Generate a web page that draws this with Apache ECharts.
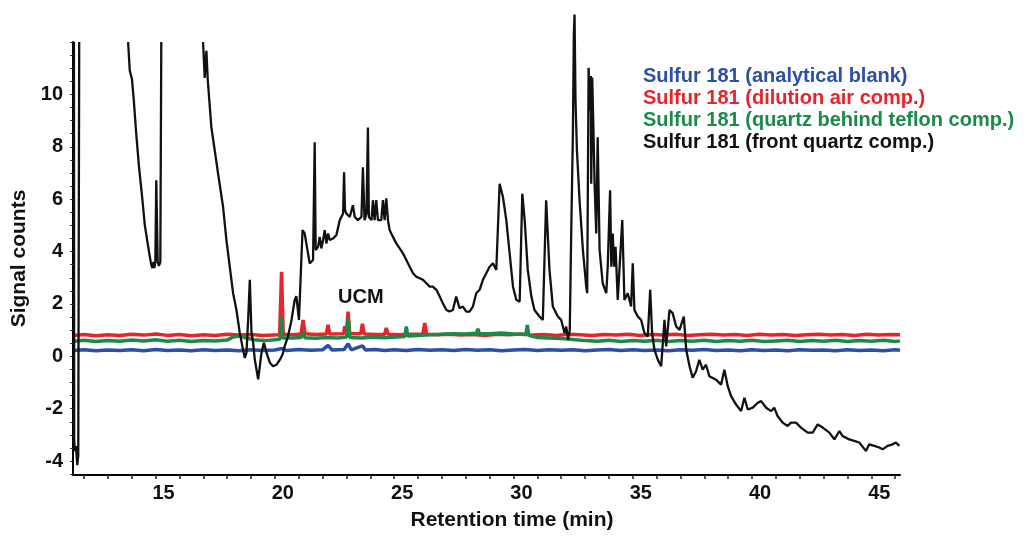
<!DOCTYPE html>
<html>
<head>
<meta charset="utf-8">
<script src="https://cdn.jsdelivr.net/npm/echarts@6/dist/echarts.min.js"></script>
<style>
html,body{margin:0;padding:0;background:#fff;}
#chart{width:1026px;height:536px;}
</style>
</head>
<body>
<div id="chart"></div>
<script>
// ---- Data (retention time in min, signal counts) ----
const seriesNames = [
  'Sulfur 181 (analytical blank)',
  'Sulfur 181 (dilution air comp.)',
  'Sulfur 181 (quartz behind teflon comp.)',
  'Sulfur 181 (front quartz comp.)'
];
const seriesColors = ['#2b50a6', '#e8232b', '#1b8a48', '#111111'];

const xLabelValues = [15, 20, 25, 30, 35, 40, 45];
const xTickValues = [12,13,14,15,16,17,18,19,20,21,22,23,24,25,26,27,28,29,30,31,32,33,34,35,36,37,38,39,40,41,42,43,44,45,46];
const yLabelValues = [-4, -2, 0, 2, 4, 6, 8, 10];
const yTickValues = [-4.5,-4,-3.5,-3,-2.5,-2,-1.5,-1,-0.5,0,0.5,1,1.5,2,2.5,3,3.5,4,4.5,5,5.5,6,6.5,7,7.5,8,8.5,9,9.5,10,10.5,11,11.5,12];

// analytical blank (blue)
const blankTime = [11.55,12,12.5,13,13.5,14,14.5,15,15.5,16,16.5,17,17.5,18,18.5,19,19.5,20,20.3,20.5,21,21.5,22,22.23,22.4,22.9,23.07,23.2,23.67,23.8,24.2,24.6,25,25.5,26,26.5,27,27.5,28,28.5,29,29.5,30,30.5,31,31.5,32,32.5,33,33.5,34,34.5,35,35.5,36,36.5,37,37.5,38,38.5,39,39.5,40,40.5,41,41.5,42,42.5,43,43.5,44,44.5,45,45.5,46,46.2];
const blankSignal = [0.22,0.25,0.21,0.24,0.22,0.25,0.21,0.26,0.22,0.24,0.21,0.25,0.22,0.24,0.21,0.25,0.22,0.24,0.30,0.22,0.26,0.23,0.25,0.42,0.24,0.26,0.48,0.25,0.40,0.24,0.26,0.22,0.25,0.22,0.26,0.23,0.25,0.22,0.26,0.23,0.25,0.21,0.24,0.26,0.22,0.25,0.23,0.25,0.21,0.24,0.26,0.22,0.25,0.22,0.24,0.21,0.25,0.23,0.26,0.22,0.24,0.21,0.25,0.22,0.24,0.21,0.25,0.23,0.24,0.21,0.25,0.22,0.24,0.21,0.25,0.23];

// dilution air (red)
const airTime = [11.55,12,12.5,13,13.5,14,14.5,15,15.5,16,16.5,17,17.5,18,18.5,19,19.5,20.2,20.28,20.35,20.7,21.1,21.18,21.27,21.7,22.15,22.23,22.3,22.88,22.93,23.0,23.07,23.14,23.6,23.67,23.75,24.2,24.6,24.67,24.75,25.2,25.7,26.2,26.28,26.36,26.8,27.3,27.8,28.3,28.8,29.3,29.8,30.3,30.8,31.3,31.8,32.3,32.8,33.3,33.8,34.3,34.8,35.3,35.8,36.3,36.8,37.3,37.8,38.3,38.8,39.3,39.8,40.3,40.8,41.3,41.8,42.3,42.8,43.3,43.8,44.3,44.8,45.3,45.8,46.2];
const airSignal = [0.80,0.83,0.79,0.82,0.80,0.84,0.81,0.85,0.80,0.83,0.79,0.82,0.80,0.84,0.81,0.83,0.80,0.82,3.23,0.84,0.82,0.85,1.39,0.86,0.83,0.85,1.20,0.85,0.86,1.15,0.86,1.71,0.86,0.86,1.24,0.85,0.83,0.84,1.08,0.84,0.82,0.84,0.85,1.27,0.84,0.82,0.84,0.81,0.83,0.80,0.84,0.82,0.85,0.81,0.83,0.80,0.84,0.82,0.80,0.83,0.81,0.84,0.80,0.83,0.81,0.84,0.80,0.82,0.84,0.81,0.83,0.80,0.84,0.81,0.83,0.80,0.82,0.84,0.81,0.83,0.80,0.84,0.81,0.83,0.82];

// quartz behind teflon (green)
const teflonTime = [11.55,12,12.5,13,13.5,14,14.5,15,15.5,16,16.5,17,17.5,18,18.25,18.5,18.8,19.2,19.6,20.0,20.22,20.28,20.34,20.7,21.1,21.18,21.26,21.7,22.2,22.6,23.0,23.07,23.14,23.6,24.1,24.6,25.1,25.45,25.51,25.57,26.0,26.5,27.0,27.5,28.0,28.45,28.51,28.57,29.0,29.5,30.0,30.52,30.58,30.64,31.0,31.5,32.0,32.5,33.0,33.5,34.0,34.5,35.0,35.5,36.0,36.5,37.0,37.5,38.0,38.5,39.0,39.5,40.0,40.5,41.0,41.5,42.0,42.5,43.0,43.5,44.0,44.5,45.0,45.5,46.0,46.2];
const teflonSignal = [0.58,0.61,0.57,0.60,0.58,0.62,0.59,0.63,0.58,0.61,0.57,0.60,0.59,0.62,0.74,0.78,0.70,0.62,0.60,0.63,0.66,1.52,0.70,0.70,0.72,0.92,0.71,0.69,0.72,0.70,0.73,1.45,0.72,0.70,0.73,0.71,0.74,0.76,1.14,0.78,0.80,0.82,0.84,0.86,0.85,0.88,1.05,0.87,0.86,0.89,0.85,0.83,1.20,0.80,0.72,0.70,0.68,0.64,0.60,0.58,0.61,0.57,0.60,0.58,0.61,0.57,0.60,0.58,0.61,0.57,0.60,0.58,0.61,0.57,0.59,0.61,0.57,0.60,0.58,0.61,0.57,0.60,0.58,0.61,0.57,0.59];

// front quartz (black); null = trace leaves the plot at the top
const frontTime = [11.58,11.59,11.62,11.66,11.72,11.76,11.80,11.9,
  13.85,13.92,14.01,14.09,14.18,14.30,14.43,14.55,14.68,14.77,14.82,14.87,14.91,14.95,14.99,15.03,15.05,15.09,15.14,15.20,15.24,15.5,
  16.99,17.06,17.13,17.19,17.34,17.48,17.62,17.83,17.97,18.11,18.25,18.39,18.53,18.64,18.74,18.81,18.88,18.95,19.02,19.09,19.16,19.23,19.30,19.37,19.44,19.54,19.65,19.79,19.92,20.07,20.21,20.32,20.41,20.55,20.70,20.83,20.90,21.01,21.16,21.25,21.39,21.46,21.60,21.67,21.71,21.81,21.88,21.95,22.02,22.09,22.16,22.23,22.30,22.44,22.58,22.72,22.86,22.90,22.94,23.00,23.14,23.27,23.35,23.48,23.63,23.69,23.76,23.84,23.90,23.94,24.05,24.11,24.18,24.25,24.32,24.46,24.53,24.60,24.67,24.74,24.81,24.95,25.09,25.23,25.37,25.51,25.65,25.79,25.93,26.07,26.21,26.35,26.49,26.62,26.77,26.91,27.04,27.19,27.32,27.46,27.60,27.74,27.88,28.02,28.16,28.30,28.44,28.58,28.72,28.86,29.00,29.14,29.28,29.42,29.56,29.70,29.84,29.98,30.12,30.26,30.37,30.47,30.60,30.75,30.88,31.09,31.23,31.37,31.51,31.65,31.86,32.00,32.14,32.21,32.29,32.36,32.42,32.49,32.53,32.56,32.60,32.66,32.77,32.91,33.05,33.09,33.15,33.20,33.24,33.26,33.30,33.35,33.40,33.47,33.53,33.61,33.74,33.89,33.95,34.05,34.10,34.16,34.22,34.28,34.37,34.44,34.56,34.65,34.79,34.93,35.00,35.07,35.21,35.35,35.49,35.63,35.73,35.81,35.91,36.05,36.19,36.33,36.40,36.54,36.67,36.82,36.96,37.14,37.24,37.38,37.51,37.65,37.79,37.93,38.07,38.21,38.49,38.70,38.84,38.98,39.12,39.33,39.54,39.68,39.82,40.03,40.24,40.38,40.59,40.80,40.93,41.07,41.28,41.49,41.63,41.84,42.05,42.33,42.54,42.75,42.96,43.24,43.45,43.66,43.79,44.07,44.28,44.49,44.77,44.91,45.12,45.33,45.47,45.68,45.89,46.03,46.17];
const frontSignal = [12,-3.2,-3.62,-3.43,-4.15,-3.8,12,null,
  12,10.9,10.59,9.75,8.62,7.29,6.15,5.01,4.25,3.75,3.49,3.37,3.6,3.37,3.6,6.72,6.79,3.6,3.45,3.6,12,null,
  12,10.63,11.66,10.52,8.74,7.86,6.98,5.70,4.44,3.42,2.41,1.77,0.89,0.38,-0.06,0.14,1.39,2.92,0.9,0.52,-0.13,-0.5,-0.88,-0.38,0.14,0.52,0.14,-0.24,-0.38,-0.32,-0.13,0.06,0.38,0.76,1.39,2.15,2.3,1.39,4.82,4.69,3.93,3.55,3.68,8.17,4.06,4.18,4.56,4.12,4.44,4.82,4.31,4.69,4.44,4.5,4.63,5.2,5.45,7.03,5.58,5.45,5.32,5.77,5.32,5.2,5.32,7.22,5.2,5.45,8.74,5.32,5.2,5.96,5.2,5.96,5.2,5.2,5.96,5.2,6.03,5.2,4.82,4.56,4.31,4.12,3.93,3.68,3.42,3.17,3.04,2.98,2.92,2.79,2.66,2.66,2.54,2.28,2.03,1.77,1.71,1.77,2.28,1.84,1.9,1.71,1.71,1.9,2.41,2.54,2.92,3.17,3.42,3.55,3.3,6.59,6.08,5.2,3.93,2.66,2.15,2.09,6.21,5.2,3.3,2.28,1.77,1.52,1.39,5.96,3.3,1.9,1.52,1.39,0.89,1.14,0.63,1.0,4.69,8.49,12.29,13.05,9.76,7.86,5.96,4.06,2.66,2.41,11.02,9.37,10.7,6.59,10.64,8.74,6.59,4.69,8.36,4.06,2.79,2.41,3.42,6.34,3.42,4.69,3.42,4.18,2.15,2.15,5.2,2.15,2.41,1.9,3.55,1.77,1.52,1.39,0.89,0.76,2.54,0.89,0.25,-0.13,-0.38,1.39,0.38,1.77,1.65,1.14,1.01,1.52,0.25,-0.38,-0.82,-0.58,-0.13,-0.51,-0.32,-0.76,-0.89,-1.08,-0.51,-1.14,-1.52,-1.84,-2.09,-1.58,-2.03,-1.96,-1.77,-1.71,-1.96,-2.09,-1.96,-2.28,-2.53,-2.66,-2.53,-2.53,-2.72,-2.91,-2.91,-2.6,-2.72,-2.91,-3.17,-2.85,-3.04,-3.17,-3.23,-3.29,-3.61,-3.36,-3.42,-3.48,-3.55,-3.42,-3.36,-3.29,-3.42];

const annotationText = 'UCM';

// ---- Chart ----
function pairs(t, s) { return t.map((x, i) => [x, s[i]]); }
const FONT = '"Liberation Sans", Arial, Helvetica, sans-serif';

const chart = echarts.init(document.getElementById('chart'), null, {renderer: 'canvas'});
const seriesData = [
  pairs(blankTime, blankSignal),
  pairs(airTime, airSignal),
  pairs(teflonTime, teflonSignal),
  pairs(frontTime, frontSignal)
];

chart.setOption({
  animation: false,
  backgroundColor: '#ffffff',
  grid: {left: 73, right: 126, top: 42, bottom: 60},
  legend: {
    orient: 'vertical',
    left: 638, top: 66,
    padding: 0,
    itemGap: 2,
    itemWidth: 0, itemHeight: 0,
    icon: 'none',
    selectedMode: false,
    data: seriesNames.map((n, i) => ({
      name: n,
      icon: 'none',
      textStyle: {color: seriesColors[i], fontSize: 20, fontWeight: 'bold', fontFamily: FONT, lineHeight: 20}
    }))
  },
  xAxis: {
    type: 'value',
    min: 11.54, max: 46.2,
    name: 'Retention time (min)',
    nameLocation: 'middle',
    nameGap: 35,
    nameTextStyle: {color: '#111', fontSize: 21, fontWeight: 'bold', fontFamily: FONT, padding: [0, 0, 0, 51]},
    axisLine: {show: true, onZero: false, lineStyle: {color: '#000', width: 2}},
    axisTick: {show: true, customValues: xTickValues, length: 4, lineStyle: {color: '#222', width: 1.5}},
    axisLabel: {customValues: xLabelValues, color: '#111', fontSize: 20, fontWeight: 'bold', fontFamily: FONT, margin: 8, padding: [0, 0, 0, 16]},
    splitLine: {show: false}
  },
  yAxis: {
    type: 'value',
    min: -4.53, max: 12,
    name: 'Signal counts',
    nameLocation: 'middle',
    nameGap: 34,
    nameTextStyle: {color: '#111', fontSize: 21, fontWeight: 'bold', fontFamily: FONT},
    axisLine: {show: true, onZero: false, lineStyle: {color: '#000', width: 2}},
    axisTick: {show: true, customValues: yTickValues, length: 3, lineStyle: {color: '#333', width: 1}},
    axisLabel: {customValues: yLabelValues, color: '#111', fontSize: 20, fontWeight: 'bold', fontFamily: FONT, margin: 10, padding: [8, 0, 0, 0]},
    splitLine: {show: false}
  },
  graphic: [{
    type: 'text',
    left: 338, top: 287,
    style: {text: annotationText, fill: '#111', font: 'bold 20px ' + FONT}
  }],
  series: seriesData.map((d, i) => ({
    name: seriesNames[i],
    type: 'line',
    data: d,
    showSymbol: false,
    symbol: 'none',
    connectNulls: false,
    clip: i !== 3,
    z: i === 3 ? 5 : 3,
    lineStyle: {color: seriesColors[i], width: i === 3 ? 2.3 : 3.5},
    itemStyle: {color: seriesColors[i]}
  }))
});
</script>
</body>
</html>
